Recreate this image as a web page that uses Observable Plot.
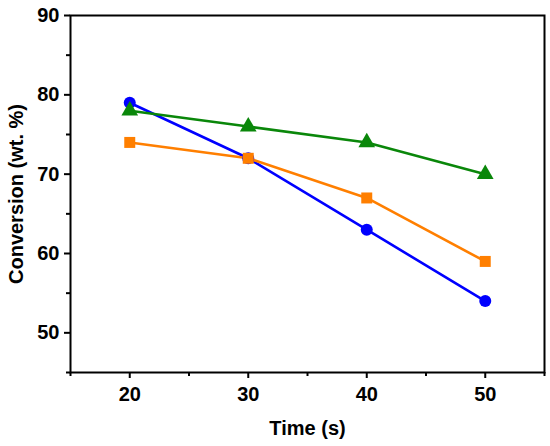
<!DOCTYPE html>
<html>
<head>
<meta charset="utf-8">
<script src="https://cdn.jsdelivr.net/npm/d3@7"></script>
<script src="https://cdn.jsdelivr.net/npm/@observablehq/plot@0.6"></script>
<style>
html,body{margin:0;padding:0;background:#fff;}
</style>
</head>
<body>
<div id="chart"></div>
<script>
const times = [20, 30, 40, 50];
const seriesA = [79, 72, 63, 54]; // blue circles
const seriesB = [74, 72, 67, 59]; // orange squares
const seriesC = [78, 76, 74, 70]; // green triangles
const xMajor = [20, 30, 40, 50];
const xMinor = [15, 25, 35, 45, 55];
const yMajor = [50, 60, 70, 80, 90];
const yMinor = [45, 55, 65, 75, 85];

const series = [
  {name: "A", values: seriesA, color: "#0000ff", symbol: "circle", r: 6},
  {name: "B", values: seriesB, color: "#ff7f00", symbol: "square", r: 6.2},
  {name: "C", values: seriesC, color: "#0a870a", symbol: "triangle", r: 6.2}
];
const rows = series.flatMap(s => times.map((t, i) => ({t, v: s.values[i], s: s.name})));

const marks = [];
for (const s of series) {
  const d = rows.filter(r => r.s === s.name);
  marks.push(Plot.line(d, {x: "t", y: "v", stroke: s.color, strokeWidth: 2.6}));
}
for (const s of series) {
  const d = rows.filter(r => r.s === s.name);
  marks.push(Plot.dot(d, {x: "t", y: "v", fill: s.color, symbol: () => s.symbol, r: s.r, stroke: "none"}));
}

const chart = Plot.plot({
  width: 550,
  height: 446,
  marginLeft: 70,
  marginRight: 6,
  marginTop: 15,
  marginBottom: 74,
  x: {domain: [15, 55]},
  y: {domain: [45, 90]},
  symbol: {type: "identity"},
  style: {fontFamily: "'Liberation Sans', Arial, sans-serif", fontSize: "20px", fontWeight: "bold", color: "#000", background: "#fff"},
  marks: [
    Plot.axisX({ticks: xMajor, tickSize: 6, tickPadding: 8, strokeWidth: 2, label: "Time (s)", labelAnchor: "center", labelArrow: "none", labelOffset: 62, fontSize: 20}),
    Plot.axisX({ticks: xMinor, tickSize: 4, strokeWidth: 2, tickFormat: () => "", label: null}),
    Plot.axisY({ticks: yMajor, tickSize: 6, tickPadding: 5, strokeWidth: 2, label: "Conversion (wt. %)", labelAnchor: "center", labelArrow: "none", labelOffset: 62, fontSize: 20}),
    Plot.axisY({ticks: yMinor, tickSize: 4, strokeWidth: 2, tickFormat: () => "", label: null}),
    Plot.frame({stroke: "#000", strokeWidth: 2}),
    ...marks
  ]
});
document.getElementById("chart").appendChild(chart);
</script>
</body>
</html>
